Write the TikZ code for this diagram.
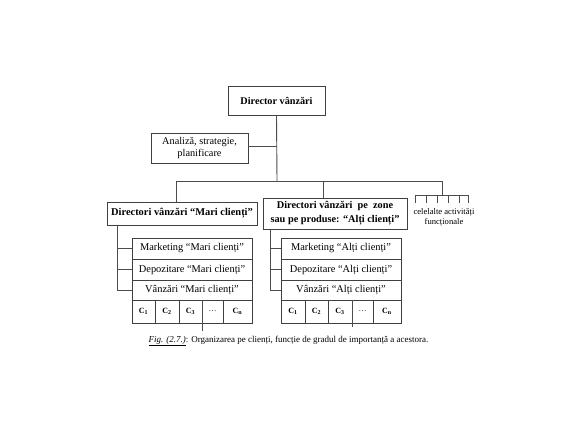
\documentclass[tikz,border=0pt]{standalone}
\usepackage{fontspec}
\setmainfont{Liberation Serif}
\begin{document}
\begin{tikzpicture}[x=1pt,y=-1pt,
  box/.style={draw=black!75,line width=0.9pt,inner sep=0pt,align=center,font=\fontsize{10.3}{12}\selectfont},
  row/.style={draw=black!75,line width=0.9pt,inner sep=0pt,minimum width=120pt,font=\fontsize{10.4}{12}\selectfont},
  cell/.style={draw=black!75,line width=0.9pt,inner sep=0pt,minimum height=23pt,font=\fontsize{8}{9}\selectfont\bfseries},
  link/.style={draw=black!70,line width=0.9pt},
  lbl/.style={inner sep=0pt,align=center,font=\fontsize{8.6}{9.5}\selectfont}]
\useasboundingbox (0,0) rectangle (575,432);
\fill[white] (0,0) rectangle (575,432);

% top
\node[box,minimum width=97pt,minimum height=29pt,font=\fontsize{10.2}{12}\selectfont\bfseries] (dir) at (276.5,100.5) {Director vânzări};
\node[box,minimum width=97pt,minimum height=30pt,font=\fontsize{10.3}{12.5}\selectfont] (ana) at (199.5,148) {Analiză, strategie,\\planificare};

\coordinate (busc) at (277,181);
\coordinate (anaj) at (277,146);
\coordinate (busl) at (176,181);
\coordinate (busm) at (323,181);
\coordinate (busr) at (442,181);
\coordinate (comb) at (442,195);

\draw[link] (dir.south) -- (busc);
\draw[link] (ana.east |- anaj) -- (anaj);
\draw[link] (busl) -- (busr);

% second level
\node[box,minimum width=150pt,minimum height=23pt,font=\fontsize{10.4}{12}\selectfont\bfseries] (dl) at (182,213.5) {Directori vânzări “Mari clienți”};
\node[box,minimum width=144pt,minimum height=31pt,font=\fontsize{10.3}{14}\selectfont\bfseries] (dm) at (335,213.5) {Directori vânzări\ \ pe\ \ zone\\sau pe produse: “Alți clienți”};

\draw[link] (busl) -- (busl |- dl.north);
\draw[link] (busm) -- (busm |- dm.north);
\draw[link] (busr) -- (comb);

% comb for other activities
\coordinate (c1) at (415,195);
\coordinate (c2) at (426,195);
\coordinate (c3) at (437,195);
\coordinate (c4) at (448,195);
\coordinate (c5) at (459,195);
\coordinate (c6) at (468,195);
\draw[link] (c1) -- (c6);
\foreach \c in {c1,c2,c3,c4,c5,c6} \draw[link] (\c) -- ++(0,8);
\node[lbl] (other) at (444,217.5) {celelalte activități\\funcționale};

% left table
\node[row,minimum height=21pt] (lmk) at (192,248.5) {Marketing “Mari clienți”};
\node[row,minimum height=21pt] (ldp) at (192,269.5) {Depozitare “Mari clienți”};
\node[row,minimum height=20pt] (lvz) at (192,290) {Vânzări “Mari clienți”};
\node[cell,minimum width=23pt] (lc1) at (143.5,311.5) {C\textsubscript{1}};
\node[cell,minimum width=24pt] (lc2) at (167,311.5) {C\textsubscript{2}};
\node[cell,minimum width=23pt] (lc3) at (190.5,311.5) {C\textsubscript{3}};
\node[cell,minimum width=21pt] (lc4) at (212.5,311.5) {\mdseries …};
\node[cell,minimum width=29pt] (lc5) at (237.5,311.5) {C\textsubscript{n}};
\draw[link] (lc3.north east) -- ++(0,31);

\coordinate (lj) at (117,225);
\draw[link] (lj) -- (lj |- lvz.west) -- (lvz.west);
\draw[link] (lj |- lmk.west) -- (lmk.west);
\draw[link] (lj |- ldp.west) -- (ldp.west);

% middle table
\node[row,minimum height=21pt] (mmk) at (341,248.5) {Marketing “Alți clienți”};
\node[row,minimum height=21pt] (mdp) at (341,269.5) {Depozitare “Alți clienți”};
\node[row,minimum height=20pt] (mvz) at (341,290) {Vânzări “Alți clienți”};
\node[cell,minimum width=24pt] (mc1) at (293,311.5) {C\textsubscript{1}};
\node[cell,minimum width=23pt] (mc2) at (316.5,311.5) {C\textsubscript{2}};
\node[cell,minimum width=24pt] (mc3) at (340,311.5) {C\textsubscript{3}};
\node[cell,minimum width=21pt] (mc4) at (362.5,311.5) {\mdseries …};
\node[cell,minimum width=28pt] (mc5) at (387,311.5) {C\textsubscript{n}};
\draw[link] (mc3.north east) -- ++(0,27);

\coordinate (mj) at (270,229);
\draw[link] (mj) -- (mj |- mvz.west) -- (mvz.west);
\draw[link] (mj |- mmk.west) -- (mmk.west);
\draw[link] (mj |- mdp.west) -- (mdp.west);

% caption
\node[inner sep=0pt,font=\fontsize{9}{10}\selectfont] (cap) at (288.5,341) {\underline{\textit{Fig. (2.7.)}}: Organizarea pe clienți, funcție de gradul de importanță a acestora.};
\end{tikzpicture}
\end{document}
